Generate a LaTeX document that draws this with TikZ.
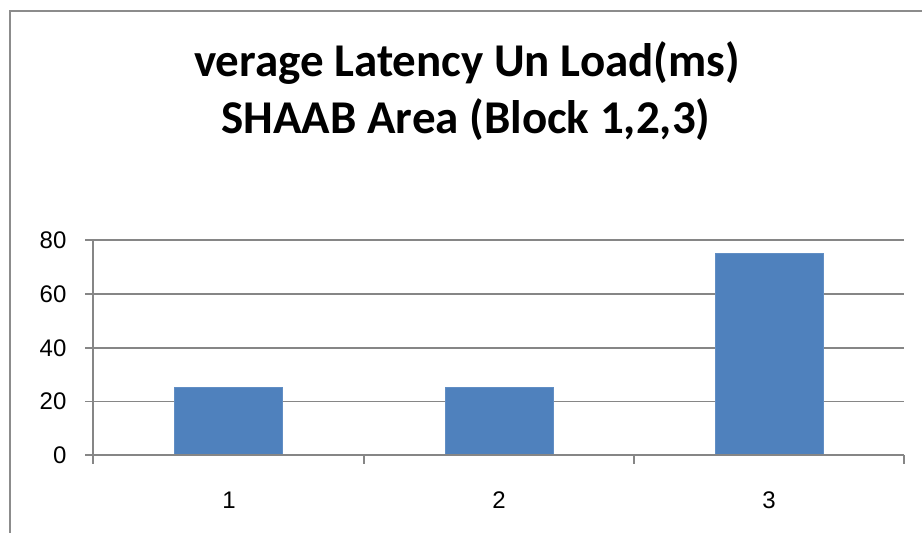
\documentclass[tikz,border=0pt]{standalone}
\usepackage{fontspec}
\setmainfont{Liberation Sans}
\newfontfamily\titlefont{Carlito}
\usetikzlibrary{positioning}
\definecolor{barblue}{RGB}{79,129,189}
\definecolor{gridgray}{RGB}{134,134,134}
\definecolor{framegray}{RGB}{140,140,140}

\begin{document}
\begin{tikzpicture}[x=1pt, y=-1pt, line width=1.2pt]
        \useasboundingbox (0,0) rectangle (922,533);
        \clip (0,0) rectangle (922,533);

        % Chart frame
        \draw [framegray, line width=2.2pt] (10,11) rectangle (940,560);

        % Title
        \node [anchor=base, font=\titlefont\bfseries\fontsize{47}{56}\selectfont] (title1) at (467,76) {verage Latency Un Load(ms)};
        \node [anchor=base, font=\titlefont\bfseries\fontsize{47}{56}\selectfont] (title2) at (466,133) {SHAAB Area (Block 1,2,3)};

        % Grid lines
        \draw [gridgray] (85,240) -- (904,240);
        \draw [gridgray] (85,294) -- (904,294);
        \draw [gridgray] (85,348) -- (904,348);
        \draw [gridgray] (85,401.5) -- (904,401.5);

        % Bars
        \node [draw=barblue!90!white, fill=barblue, line width=0.6pt, inner sep=0, minimum width=108, minimum height=67.2, anchor=south] (bar1) at (228,455) {};
        \node [draw=barblue!90!white, fill=barblue, line width=0.6pt, inner sep=0, minimum width=108, minimum height=67.2, anchor=south] (bar2) at (499,455) {};
        \node [draw=barblue!90!white, fill=barblue, line width=0.6pt, inner sep=0, minimum width=108, minimum height=201.6, anchor=south] (bar3) at (769,455) {};

        % Axes
        \draw [gridgray] (85,455) -- (904,455);
        \draw [gridgray] (93,240) -- (93,464);
        \draw [gridgray] (364,455) -- (364,464);
        \draw [gridgray] (634,455) -- (634,464);
        \draw [gridgray] (904,455) -- (904,464);

        % Value labels
        \node [anchor=east, inner sep=0, font=\fontsize{24}{28}\selectfont] (y80) at (67,240) {80};
        \node [anchor=east, inner sep=0, font=\fontsize{24}{28}\selectfont] (y60) at (67,294) {60};
        \node [anchor=east, inner sep=0, font=\fontsize{24}{28}\selectfont] (y40) at (67,348) {40};
        \node [anchor=east, inner sep=0, font=\fontsize{24}{28}\selectfont] (y20) at (67,401.5) {20};
        \node [anchor=east, inner sep=0, font=\fontsize{24}{28}\selectfont] (y0) at (67,455) {0};

        % Category labels
        \node [inner sep=0, font=\fontsize{24}{28}\selectfont] (x1) at (229,500) {1};
        \node [inner sep=0, font=\fontsize{24}{28}\selectfont] (x2) at (499,500) {2};
        \node [inner sep=0, font=\fontsize{24}{28}\selectfont] (x3) at (769,500) {3};
\end{tikzpicture}
\end{document}
